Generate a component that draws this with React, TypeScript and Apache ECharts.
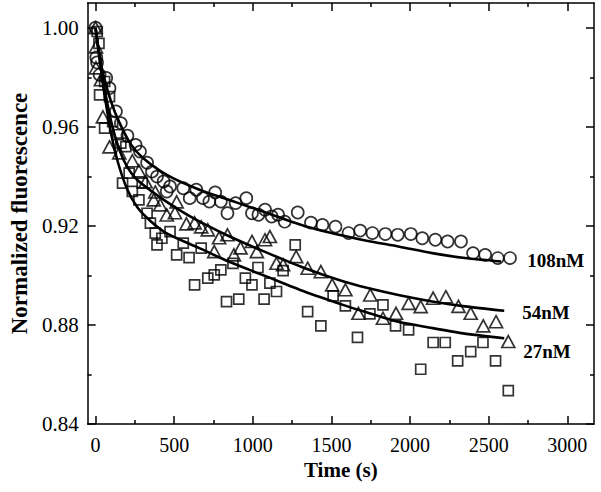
import React, { useEffect, useRef } from "react";
import * as echarts from "echarts";

const xMajor = [0, 500, 1000, 1500, 2000, 2500, 3000];
const xMinor = [250, 750, 1250, 1750, 2250, 2750];
const yMajor = [0.84, 0.88, 0.92, 0.96, 1.0];
const yMinor = [0.86, 0.9, 0.94, 0.98];

// 108 nM (circles)
const circles108: [number, number][] = [
  [0, 1.0], [5, 0.988], [10, 0.986], [26, 0.981], [68, 0.9797], [89, 0.9756],
  [130, 0.9662], [161, 0.9615], [203, 0.9564], [255, 0.9527], [283, 0.95],
  [328, 0.9455], [359, 0.9419], [391, 0.9399], [433, 0.9379], [474, 0.9359],
  [453, 0.9339], [558, 0.9352], [599, 0.9312], [641, 0.9346], [683, 0.9312],
  [724, 0.9298], [761, 0.9335], [797, 0.9298], [839, 0.9251], [891, 0.9292],
  [959, 0.9312], [995, 0.9251], [1036, 0.9245], [1078, 0.9265], [1120, 0.9238],
  [1161, 0.9245], [1203, 0.9217], [1286, 0.9254], [1370, 0.9213], [1443, 0.9204],
  [1526, 0.9197], [1609, 0.9171], [1683, 0.9181], [1761, 0.9171], [1843, 0.9167],
  [1922, 0.9164], [2005, 0.9167], [2078, 0.915], [2161, 0.9144], [2239, 0.9137],
  [2324, 0.9137], [2401, 0.909], [2478, 0.9083], [2558, 0.907], [2636, 0.907],
];

// 54 nM (triangles)
const triangles54: [number, number][] = [
  [0, 1.0], [3, 0.9923], [3, 0.9838], [34, 0.979], [47, 0.964], [89, 0.9519],
  [151, 0.9495], [234, 0.9463], [276, 0.9422], [318, 0.9378], [380, 0.9337],
  [370, 0.9305], [411, 0.9285], [453, 0.9244], [516, 0.9297], [505, 0.9253],
  [578, 0.9208], [630, 0.9212], [672, 0.9196], [714, 0.9184], [755, 0.9096],
  [786, 0.9152], [839, 0.9164], [880, 0.9083], [922, 0.9111], [995, 0.9137],
  [1026, 0.9096], [1078, 0.9144], [1109, 0.9157], [1151, 0.9049], [1193, 0.9043],
  [1276, 0.9076], [1349, 0.9029], [1433, 0.9015], [1505, 0.8962], [1589, 0.8942],
  [1672, 0.8847], [1747, 0.8921], [1828, 0.8827], [1911, 0.8847], [1991, 0.8887],
  [2068, 0.8874], [2147, 0.8908], [2228, 0.8914], [2308, 0.8875], [2386, 0.8847],
  [2466, 0.8796], [2547, 0.8813], [2625, 0.8733],
];

// 27 nM (squares)
const squares27: [number, number][] = [
  [11, 0.9985], [22, 0.9937], [58, 0.9783], [26, 0.9729], [89, 0.9722],
  [58, 0.9595], [109, 0.9621], [141, 0.9568], [161, 0.9534], [193, 0.952],
  [214, 0.9413], [172, 0.9373], [234, 0.9339], [276, 0.9305], [297, 0.9373],
  [328, 0.9251], [349, 0.9211], [380, 0.9171], [391, 0.9123], [422, 0.915],
  [474, 0.9177], [516, 0.9083], [558, 0.913], [595, 0.9072], [630, 0.8962],
  [672, 0.911], [714, 0.8989], [755, 0.9002], [797, 0.9022], [833, 0.8894],
  [874, 0.9049], [911, 0.8904], [953, 0.8989], [995, 0.8962], [1033, 0.9032],
  [1072, 0.8904], [1109, 0.8969], [1151, 0.8935], [1193, 0.9019], [1270, 0.9123],
  [1349, 0.8854], [1433, 0.8796], [1511, 0.8917], [1589, 0.8877], [1666, 0.875],
  [1745, 0.8845], [1828, 0.8881], [1908, 0.8796], [1991, 0.878], [2068, 0.8621],
  [2147, 0.8729], [2224, 0.8729], [2303, 0.8655], [2386, 0.8692], [2464, 0.8729],
  [2544, 0.8655], [2625, 0.8535],
];

// Fitted curves
const fit108: [number, number][] = [
  [0, 1.0], [25, 0.989], [50, 0.981], [100, 0.970], [150, 0.962], [224, 0.953],
  [300, 0.9475], [453, 0.9406], [661, 0.9346], [891, 0.9296], [1078, 0.9255],
  [1328, 0.920], [1578, 0.916], [1724, 0.914], [1933, 0.9116], [2141, 0.909],
  [2349, 0.907], [2580, 0.9056],
];
const fit54: [number, number][] = [
  [0, 1.0], [25, 0.988], [50, 0.978], [100, 0.962], [150, 0.951], [200, 0.944],
  [266, 0.9385], [411, 0.9315], [558, 0.9255], [700, 0.9205], [860, 0.9155],
  [1078, 0.9095], [1328, 0.903], [1578, 0.8975], [1724, 0.895], [1933, 0.892],
  [2141, 0.8895], [2349, 0.8875], [2599, 0.8857],
];
const fit27: [number, number][] = [
  [0, 1.0], [25, 0.988], [50, 0.976], [100, 0.957], [141, 0.946], [200, 0.935],
  [266, 0.9275], [349, 0.922], [453, 0.917], [661, 0.911], [850, 0.9055],
  [1078, 0.8998], [1328, 0.8935], [1578, 0.888], [1703, 0.8855], [1911, 0.8815],
  [2120, 0.879], [2328, 0.8767], [2599, 0.8746],
];

const FONT = "'Liberation Serif', 'Times New Roman', serif";

export default function App() {
  const ref = useRef<HTMLDivElement>(null);
  useEffect(() => {
    document.body.style.margin = "0";
    if (!ref.current) return;
    const chart = echarts.init(ref.current, undefined, { renderer: "svg" });
    const xMin = -50;
    const xMax = 3170;
    const yMin = 0.84;
    const yMax = 1.01;
    const lineStyle = { color: "#000", width: 1.5 };
    const xAx = (pos: string, vals: number[], len: number, labels: boolean, line: boolean, extra: any = {}) => ({
      type: "value",
      min: xMin,
      max: xMax,
      position: pos,
      axisLine: { show: line, onZero: false, lineStyle },
      axisTick: { show: true, inside: true, length: len, customValues: vals, lineStyle },
      axisLabel: labels
        ? {
            show: true,
            customValues: vals,
            fontSize: 20,
            fontFamily: FONT,
            color: "#000",
            margin: 11,
            formatter: (v: number) => String(v),
          }
        : { show: false },
      splitLine: { show: false },
      ...extra,
    });
    const yAx = (pos: string, vals: number[], len: number, labels: boolean, line: boolean, extra: any = {}) => ({
      type: "value",
      min: yMin,
      max: yMax,
      position: pos,
      axisLine: { show: line, onZero: false, lineStyle },
      axisTick: { show: true, inside: true, length: len, customValues: vals, lineStyle },
      axisLabel: labels
        ? {
            show: true,
            customValues: vals,
            fontSize: 21,
            fontFamily: FONT,
            color: "#000",
            margin: 9,
            formatter: (v: number) => v.toFixed(2),
          }
        : { show: false },
      splitLine: { show: false },
      ...extra,
    });
    const markerStyle = { color: "transparent", borderColor: "#000", borderWidth: 1.7 };
    const labelStyle = { fontSize: 19, fontWeight: "bold", fontFamily: FONT, color: "#000" };
    const curveStyle = { color: "#000", width: 2.6 };
    chart.setOption({
      animation: false,
      backgroundColor: "#fff",
      grid: { left: 79, right: 7, top: 3, bottom: 68, containLabel: false },
      xAxis: [
        xAx("bottom", xMajor, 8, true, true, {
          name: "Time (s)",
          nameLocation: "middle",
          nameGap: 35,
          nameTextStyle: { fontSize: 21, fontWeight: "bold", fontFamily: FONT, color: "#000" },
        }),
        xAx("bottom", xMinor, 4, false, false),
        xAx("top", xMajor, 8, false, true),
        xAx("top", xMinor, 4, false, false),
      ],
      yAxis: [
        yAx("left", yMajor, 8, true, true, {
          name: "Normalized fluorescence",
          nameLocation: "middle",
          nameGap: 56,
          nameTextStyle: { fontSize: 23, fontWeight: "bold", fontFamily: FONT, color: "#000" },
        }),
        yAx("left", yMinor, 4, false, false),
        yAx("right", yMajor, 8, false, true),
        yAx("right", yMinor, 4, false, false),
      ],
      series: [
        {
          type: "scatter", name: "108nM", data: circles108, symbol: "circle", symbolSize: 12,
          itemStyle: markerStyle, z: 3,
        },
        {
          type: "scatter", name: "54nM", data: triangles54, symbol: "triangle", symbolSize: [13, 12],
          itemStyle: markerStyle, z: 3,
        },
        {
          type: "scatter", name: "27nM", data: squares27, symbol: "rect", symbolSize: 10,
          itemStyle: markerStyle, z: 3,
        },
        {
          type: "line", data: fit108, smooth: 0.25, showSymbol: false, z: 4,
          lineStyle: curveStyle,
          endLabel: { show: true, formatter: "108nM", offset: [18, -1], ...labelStyle },
        },
        {
          type: "line", data: fit54, smooth: 0.25, showSymbol: false, z: 4,
          lineStyle: curveStyle,
          endLabel: { show: true, formatter: "54nM", offset: [10, 2], ...labelStyle },
        },
        {
          type: "line", data: fit27, smooth: 0.25, showSymbol: false, z: 4,
          lineStyle: curveStyle,
          endLabel: { show: true, formatter: "27nM", offset: [11, 13], ...labelStyle },
        },
      ],
    });
    return () => chart.dispose();
  }, []);
  return <div ref={ref} style={{ width: 601, height: 492 }} />;
}
